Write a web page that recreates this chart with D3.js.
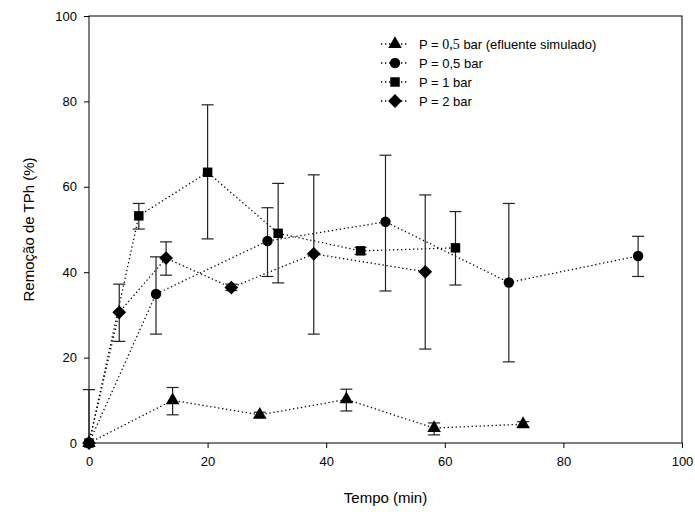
<!DOCTYPE html>
<html>
<head>
<meta charset="utf-8">
<script src="https://cdn.jsdelivr.net/npm/d3@7"></script>
<style>
  body { margin: 0; background: #fff; }
  text { font-family: "Liberation Sans", Arial, sans-serif; fill: #000; }
</style>
</head>
<body>
<div class="chart-wrapper"></div>
<script>
// data: time (min), removal (%), error bar low / high
const triTime = [0, 14.1, 28.8, 43.4, 58.2, 73.2];
const triValue = [0, 10.0, 6.6, 10.2, 3.5, 4.4];
const triLow = [0, 6.6, 6.0, 7.5, 1.9, 3.8];
const triHigh = [12.5, 13.0, 7.2, 12.6, 4.7, 5.0];

const circTime = [0, 11.3, 30.1, 50.0, 70.8, 92.6];
const circValue = [0, 34.9, 47.3, 51.8, 37.6, 43.8];
const circLow = [0, 25.5, 39.0, 35.6, 19.0, 39.0];
const circHigh = [0, 43.6, 55.1, 67.4, 56.1, 48.4];

const sqTime = [0, 8.4, 20.0, 31.9, 45.8, 61.8];
const sqValue = [0, 53.2, 63.4, 49.1, 45.0, 45.7];
const sqLow = [0, 50.1, 47.8, 37.5, 44.2, 37.0];
const sqHigh = [0, 56.1, 79.2, 60.8, 45.8, 54.2];

const diaTime = [0, 5.1, 13.0, 24.0, 37.9, 56.7];
const diaValue = [0, 30.6, 43.3, 36.4, 44.3, 40.1];
const diaLow = [0, 23.8, 39.3, 35.7, 25.5, 22.0];
const diaHigh = [0, 37.2, 47.1, 37.2, 62.8, 58.1];

const xTicks = [0, 20, 40, 60, 80, 100];
const yTicks = [0, 20, 40, 60, 80, 100];

const seriesNames = ["P = 0,5 bar (efluente simulado)", "P = 0,5 bar", "P = 1 bar", "P = 2 bar"];

// build series table
function makeSeries(time, value, low, high) {
    return time.map((t, i) => ({ t: t, v: value[i], lo: low[i], hi: high[i] }));
}
const series = [
    { name: seriesNames[0], symbol: d3.symbolTriangle, size: 80, rot: 0, pts: makeSeries(triTime, triValue, triLow, triHigh) },
    { name: seriesNames[1], symbol: d3.symbolCircle, size: 85, rot: 0, pts: makeSeries(circTime, circValue, circLow, circHigh) },
    { name: seriesNames[2], symbol: d3.symbolSquare, size: 90, rot: 0, pts: makeSeries(sqTime, sqValue, sqLow, sqHigh) },
    { name: seriesNames[3], symbol: d3.symbolSquare, size: 95, rot: 45, pts: makeSeries(diaTime, diaValue, diaLow, diaHigh) }
];

const svgWidth = 695;
const svgHeight = 512;
const margin = { top: 16, right: 13, bottom: 69, left: 89 };
const innerWidth = svgWidth - margin.left - margin.right;
const innerHeight = svgHeight - margin.top - margin.bottom;

const svg = d3.select(".chart-wrapper")
    .append("svg")
    .attr("width", svgWidth)
    .attr("height", svgHeight);

const chart = svg.append("g")
    .attr("transform", `translate(${margin.left},${margin.top})`);

const xScale = d3.scaleLinear().domain([0, 100]).range([0, innerWidth]);
const yScale = d3.scaleLinear().domain([0, 100]).range([innerHeight, 0]);

// frame
chart.append("rect")
    .attr("width", innerWidth)
    .attr("height", innerHeight)
    .attr("fill", "none")
    .attr("stroke", "#000")
    .attr("stroke-width", 1);

// axes
const xAxis = chart.append("g")
    .attr("transform", `translate(0,${innerHeight})`)
    .call(d3.axisBottom(xScale).tickValues(xTicks).tickSize(5).tickPadding(9));
const yAxis = chart.append("g")
    .call(d3.axisLeft(yScale).tickValues(yTicks).tickSize(5).tickPadding(7));
[xAxis, yAxis].forEach(ax => {
    ax.select(".domain").remove();
    ax.attr("font-family", "Liberation Sans, Arial, sans-serif").attr("font-size", 13);
});

// axis labels
svg.append("text")
    .attr("x", margin.left + innerWidth / 2)
    .attr("y", 503)
    .attr("text-anchor", "middle")
    .style("font-size", "15px")
    .text("Tempo (min)");

svg.append("text")
    .attr("transform", `translate(34,${margin.top + innerHeight / 2}) rotate(-90)`)
    .attr("text-anchor", "middle")
    .style("font-size", "15px")
    .text("Remoção de TPh (%)");

const line = d3.line().x(d => xScale(d.t)).y(d => yScale(d.v));

// dotted connecting lines
series.forEach(s => {
    chart.append("path")
        .datum(s.pts)
        .attr("d", line)
        .attr("fill", "none")
        .attr("stroke", "#000")
        .attr("stroke-width", 1.3)
        .attr("stroke-dasharray", "1.3 2.7");
});

// error bars
const capHalf = 6;
series.forEach(s => {
    const bars = s.pts.filter(d => d.hi - d.lo > 0);
    const g = chart.append("g").attr("stroke", "#222").attr("stroke-width", 1.2);
    g.selectAll("line.stem")
        .data(bars)
        .enter()
        .append("line")
        .attr("x1", d => xScale(d.t))
        .attr("x2", d => xScale(d.t))
        .attr("y1", d => yScale(d.lo))
        .attr("y2", d => yScale(d.hi));
    g.selectAll("line.capHi")
        .data(bars)
        .enter()
        .append("line")
        .attr("x1", d => xScale(d.t) - capHalf)
        .attr("x2", d => xScale(d.t) + capHalf)
        .attr("y1", d => yScale(d.hi))
        .attr("y2", d => yScale(d.hi));
    g.selectAll("line.capLo")
        .data(bars.filter(d => d.lo > 0))
        .enter()
        .append("line")
        .attr("x1", d => xScale(d.t) - capHalf)
        .attr("x2", d => xScale(d.t) + capHalf)
        .attr("y1", d => yScale(d.lo))
        .attr("y2", d => yScale(d.lo));
});

// markers
series.forEach(s => {
    chart.selectAll(null)
        .data(s.pts)
        .enter()
        .append("path")
        .attr("d", d3.symbol().type(s.symbol).size(s.size))
        .attr("transform", d => `translate(${xScale(d.t)},${yScale(d.v)}) rotate(${s.rot})`)
        .attr("fill", "#000");
});

// legend
const legend = svg.append("g").attr("transform", "translate(381,44)");
series.forEach((s, i) => {
    const row = legend.append("g").attr("transform", `translate(0,${i * 19})`);
    row.append("line")
        .attr("x1", 0).attr("x2", 28)
        .attr("y1", 0).attr("y2", 0)
        .attr("stroke", "#000")
        .attr("stroke-width", 1.3)
        .attr("stroke-dasharray", "1.3 2.7");
    row.append("path")
        .attr("d", d3.symbol().type(s.symbol).size(s.size))
        .attr("transform", `translate(14,0) rotate(${s.rot})`)
        .attr("fill", "#000");
    const label = row.append("text")
        .attr("x", 38)
        .attr("y", 5)
        .style("font-size", "13px");
    if (i === 0) {
        label.append("tspan").text("P = ");
        label.append("tspan").style("font-family", "Liberation Serif, Times New Roman, serif").style("font-size", "14px").text("0,5");
        label.append("tspan").text(" bar (efluente simulado)");
    } else {
        label.text(s.name);
    }
});
</script>
</body>
</html>
